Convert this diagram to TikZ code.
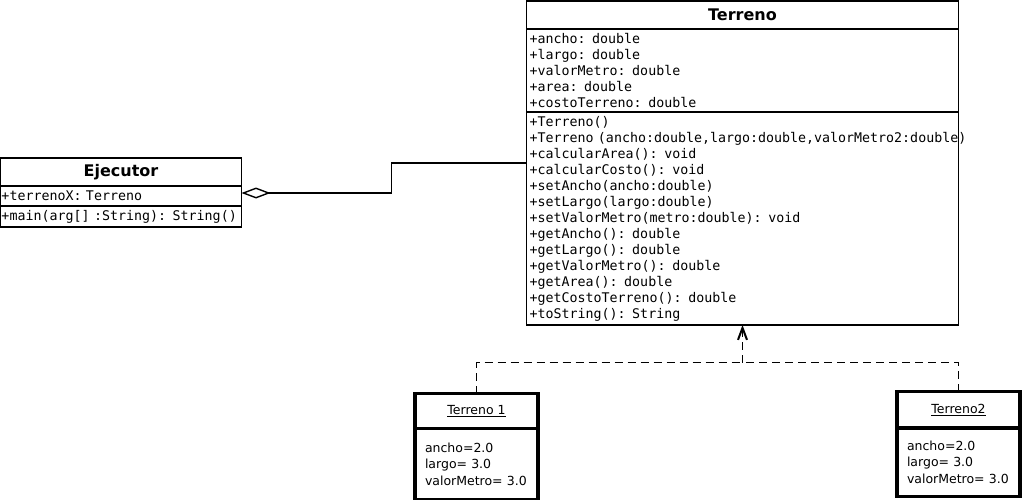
\documentclass[tikz,border=0pt]{standalone}
\usepackage{fontspec}
\setmainfont{DejaVu Sans}
\newfontfamily\umlmono{DejaVu Sans Mono}
\newcommand\umlmembers{\umlmono\fontsize{13.3}{16}\selectfont\spaceskip=0.602em\relax}
\usetikzlibrary{arrows.meta,positioning}

\begin{document}
\begin{tikzpicture}[x=1pt,y=-1pt,
      classhead/.style={
        draw,
        line width=1.6pt,
        outer sep=0pt,
        inner sep=0pt,
        minimum height=28pt,
        font=\fontsize{16}{19}\selectfont\bfseries
      },
      members/.style={
        draw,
        line width=1.6pt,
        outer sep=0pt,
        inner xsep=3pt,
        inner ysep=0pt,
        align=left,
        font=\umlmembers
      },
      objhead/.style={
        draw,
        line width=3.8pt,
        outer sep=0pt,
        inner sep=0pt,
        minimum width=123pt,
        font=\fontsize{12.5}{16}\selectfont
      },
      objslots/.style={
        draw,
        line width=3.8pt,
        outer sep=0pt,
        inner xsep=10pt,
        inner ysep=0pt,
        text width=103pt,
        align=left,
        font=\fontsize{12.5}{16.5}\selectfont
      },
      aggr/.style={{Diamond[open,length=29pt,width=11pt,line width=1.4pt]}-, line width=1.6pt},
      dep/.style={line width=1.6pt, dash pattern=on 8pt off 5pt},
      realize/.style={dep, -{Straight Barb[length=12pt,width=9pt,line width=2pt]}},
      node distance=0pt
    ]
      \useasboundingbox (0,0) rectangle (1022,500);

      % class Terreno
      \node[classhead, minimum width=432pt] (terreno) at (742.5,15) {Terreno};
      \node[members, text width=426pt, minimum height=83pt, below=of terreno] (terrenoattr) {%
        +ancho: double\\
        +largo: double\\
        +valorMetro: double\\
        +area: double\\
        +costoTerreno: double};
      \node[members, text width=426pt, minimum height=213pt, below=of terrenoattr] (terrenoops) {%
        +Terreno()\\
        +Terreno (ancho:double,largo:double,valorMetro2:double)\\
        +calcularArea(): void\\
        +calcularCosto(): void\\
        +setAncho(ancho:double)\\
        +setLargo(largo:double)\\
        +setValorMetro(metro:double): void\\
        +getAncho(): double\\
        +getLargo(): double\\
        +getValorMetro(): double\\
        +getArea(): double\\
        +getCostoTerreno(): double\\
        +toString(): String};

      % class Ejecutor
      \node[classhead, minimum width=241pt] (ejecutor) at (121,172) {Ejecutor};
      \node[members, inner xsep=1pt, text width=239pt, minimum height=20pt, below=of ejecutor] (ejecutorattr) {+terrenoX: Terreno};
      \node[members, inner xsep=1pt, text width=239pt, minimum height=21pt, below=of ejecutorattr] (ejecutorops) {+main(arg[] :String): String()};

      % objects
      \node[objhead, minimum height=35pt] (obj1) at (476.5,411) {\underline{Terreno 1}};
      \node[objslots, minimum height=71pt, below=of obj1] (obj1slots) {ancho=2.0\\largo= 3.0\\valorMetro= 3.0};
      \node[objhead, minimum height=36.5pt] (obj2) at (958.5,409.75) {\underline{Terreno2}};
      \node[objslots, minimum height=68.5pt, below=of obj2] (obj2slots) {ancho=2.0\\largo= 3.0\\valorMetro= 3.0};

      % connectors
      \draw[aggr] ([yshift=3pt]ejecutorattr.east) -- (391.5,193) |- ([yshift=55.5pt]terrenoops.west);
      \coordinate (join) at (742.5,362.5);
      \draw[dep] (obj1.north) |- (join);
      \draw[dep] (obj2.north) |- (join);
      \draw[realize] (join) -- (join |- terrenoops.south);
    \end{tikzpicture}
\end{document}
